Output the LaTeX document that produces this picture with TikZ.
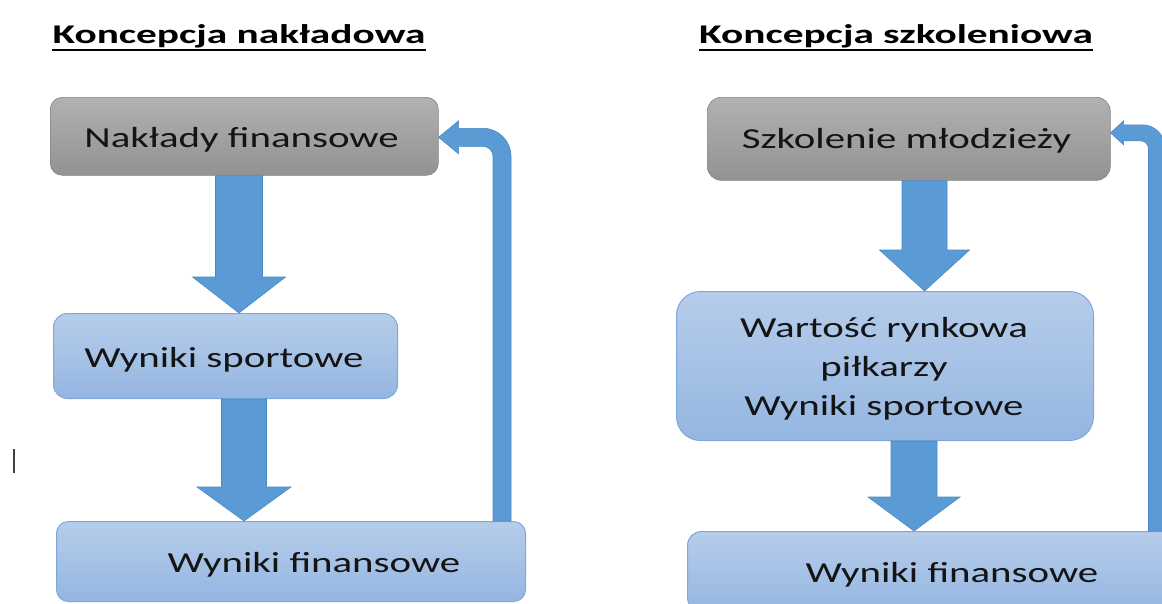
\documentclass[tikz,border=0pt]{standalone}
\usepackage{fontspec}
\setmainfont{Carlito}
\newfontfamily\boxfont[FakeStretch=1.41]{Carlito}
\newfontfamily\headfont[FakeStretch=1.53]{Carlito}
\usetikzlibrary{calc}

\definecolor{arrowblue}{HTML}{5B9BD5}
\definecolor{arrowedge}{HTML}{4C89C2}
\definecolor{greytop}{HTML}{B1B1B1}
\definecolor{greybot}{HTML}{929292}
\definecolor{bluetop}{HTML}{B6CDEA}
\definecolor{bluebot}{HTML}{95B6E1}
\definecolor{blueedge}{HTML}{7EA8DA}
\definecolor{ink}{HTML}{141414}

\tikzset{
  greybox/.style={rounded corners=#1, top color=greytop, bottom color=greybot,
    draw=greybot!90!black, line width=0.6pt, inner sep=0pt},
  greybox/.default=12pt,
  bluebox/.style={rounded corners=#1, top color=bluetop, bottom color=bluebot,
    draw=blueedge, line width=1pt, inner sep=0pt},
  bluebox/.default=12pt,
  label/.style={font=\boxfont\fontsize{29}{39}\selectfont, text=ink, inner sep=0pt, anchor=base},
  heading/.style={font=\headfont\bfseries\fontsize{27}{31}\selectfont, text=black, inner sep=0pt, anchor=base},
  arrowfill/.style={fill=arrowblue, draw=arrowedge, line width=0.6pt},
}

% thick block arrow pointing down: start, tip, shaft half width, head half width, head length
\newcommand\blockdown[5]{%
  \filldraw[arrowfill] let \p1=(#1), \p2=(#2) in
    (\x1-#3,\y1) -- (\x1-#3,\y2+#5) -- (\x1-#4,\y2+#5) -- (\x1,\y2)
    -- (\x1+#4,\y2+#5) -- (\x1+#3,\y2+#5) -- (\x1+#3,\y1) -- cycle;}

% return arrow: up from the start, round the corner, left into the tip
% args: start, tip, half width, head half width, head length, outer radius, inner radius
\newcommand\blockback[7]{%
  \filldraw[arrowfill] let \p1=(#1), \p2=(#2) in
    (\x1+#3,\y1) -- (\x1+#3,\y2+#3-#6)
    arc[start angle=0, end angle=90, radius=#6]
    -- (\x2+#5,\y2+#3) -- (\x2+#5,\y2+#4) -- (\x2,\y2) -- (\x2+#5,\y2-#4)
    -- (\x2+#5,\y2-#3) -- (\x1-#3-#7,\y2-#3)
    arc[start angle=90, end angle=0, radius=#7]
    -- (\x1-#3,\y1) -- cycle;}

\begin{document}
\begin{tikzpicture}[x=1pt,y=-1pt]
\useasboundingbox (0,0) rectangle (1162,603);
\clip (0,0) rectangle (1162,603);

% ---------- left: Koncepcja nakładowa ----------
\node[heading] (tL) at (239,43) {Koncepcja nakładowa};
\draw[line width=2pt] ($(tL.base west)+(0,7)$) -- ($(tL.base east)+(0,7)$);

\node[greybox, minimum width=388pt, minimum height=78pt, anchor=north west] (b1) at (50,97) {};
\node[label] (l1) at (241.5,147) {Nakłady finansowe};

\node[bluebox=14pt, minimum width=344pt, minimum height=85pt, anchor=north west] (b2) at (53,313) {};
\node[label] (l2) at (224,367) {Wyniki sportowe};

\node[bluebox, minimum width=469pt, minimum height=80pt, anchor=north west] (b3) at (56,521) {};
\node[label] (l3) at (314,572) {Wyniki finansowe};

\coordinate (a1s) at (b1.south -| 239,0);
\coordinate (a1e) at (b2.north -| 239,0);
\blockdown{a1s}{a1e}{23.5pt}{46.5pt}{36pt}

\coordinate (a2s) at (b2.south -| 244,0);
\coordinate (a2e) at (b3.north -| 244,0);
\blockdown{a2s}{a2e}{22.5pt}{47pt}{34pt}

\coordinate (fLs) at (b3.north -| 502,0);
\coordinate (fLe) at ($(b1.east)+(0,1)$);
\blockback{fLs}{fLe}{9pt}{16.5pt}{20pt}{28pt}{10pt}

% text cursor
\draw[line width=2pt, black!75] (14,449) -- (14,473);

% ---------- right: Koncepcja szkoleniowa ----------
\node[heading] (tR) at (896,43) {Koncepcja szkoleniowa};
\draw[line width=2pt] ($(tR.base west)+(0,7)$) -- ($(tR.base east)+(0,7)$);

\node[greybox=14pt, minimum width=403pt, minimum height=83pt, anchor=north west] (r1) at (707,97) {};
\node[label] (m1) at (906.5,148) {Szkolenie młodzieży};

\node[bluebox=24pt, minimum width=417pt, minimum height=149pt, anchor=north west] (r2) at (676,291) {};
\node[label] (m2a) at (884,337) {Wartość rynkowa};
\node[label] (m2b) at (884,376) {piłkarzy};
\node[label] (m2c) at (884,415) {Wyniki sportowe};

\node[bluebox=14pt, minimum width=490pt, minimum height=80pt, anchor=north west] (r3) at (687,531) {};
\node[label] (m3) at (952,582) {Wyniki finansowe};

\coordinate (a3s) at (r1.south -| 924.5,0);
\coordinate (a3e) at (r2.north -| 924.5,0);
\blockdown{a3s}{a3e}{22.5pt}{45pt}{41pt}

\coordinate (a4s) at (r2.south -| 914,0);
\coordinate (a4e) at (r3.north -| 914,0);
\blockdown{a4s}{a4e}{23pt}{46pt}{34pt}

\coordinate (fRs) at (r3.north -| 1156.5,0);
\coordinate (fRe) at ($(r1.east)+(0,-6)$);
\blockback{fRs}{fRe}{8pt}{12pt}{13pt}{22pt}{8pt}
\end{tikzpicture}
\end{document}
